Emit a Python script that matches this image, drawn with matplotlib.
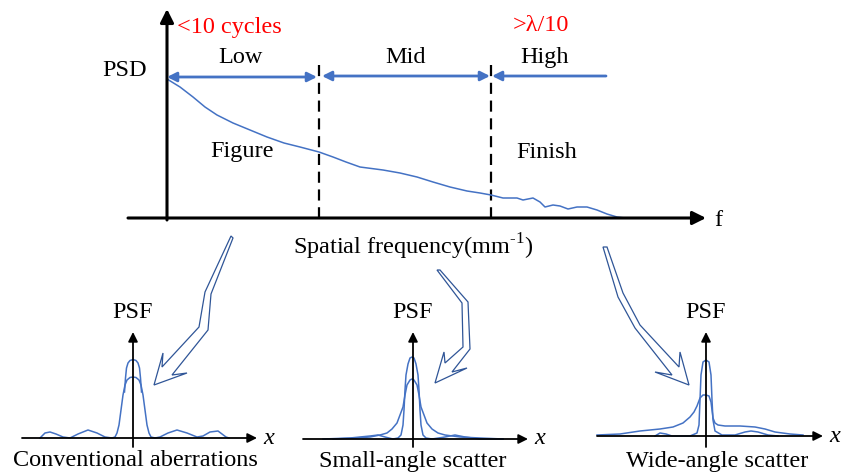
import numpy as np
import matplotlib.pyplot as plt
from matplotlib.patches import Polygon

plt.rcParams['font.family'] = ['Liberation Serif', 'DejaVu Serif']
plt.rcParams['mathtext.fontset'] = 'custom'
plt.rcParams['mathtext.rm'] = 'Liberation Serif'

BLUE = '#4472C4'
DARK = '#2F5597'

# PSD curve (pixel coords)
psd_x = [167, 180, 193, 205, 217, 233, 250, 267, 284, 300, 319, 333, 346, 360, 383, 400,
         417, 433, 450, 467, 480, 491, 503, 517, 523, 533, 540, 545, 553, 560, 568, 577,
         587, 597, 607, 617, 625]
psd_y = [79, 87, 97, 107, 115, 123, 130, 137, 143, 147, 152, 157, 162, 167, 170, 173,
         177, 182, 187, 191, 193, 195, 198, 198, 200, 198, 202, 207, 205, 206, 209, 207,
         207, 210, 214, 217, 218]

# band boundaries (x) and labels
band_edges = [167, 319, 491, 606]
band_names = ['Low', 'Mid', 'High']
band_label_x = [240, 406, 545]

# PSF panels: centre x, baseline y
panel_cx = [133, 413, 706]
panel_base = [438, 439, 436]
panel_left = [22, 303, 597]
panel_right = [257, 528, 823]
panel_names = ['Conventional aberrations', 'Small-angle scatter', 'Wide-angle scatter']
panel_name_x = [135, 413, 717]

# panel 1 curves
p1a_x = [40, 45, 50, 56, 63, 70, 78, 88, 97, 105, 112, 115, 117, 119, 121, 123, 125, 127,
         130, 133, 136, 139, 141, 143, 145, 147, 149, 151, 155, 160, 168, 177, 187, 197,
         203, 210, 218, 222, 226, 229]
p1a_y = [438, 433, 432, 434, 437, 438, 434, 430, 433, 437, 438, 437, 433, 425, 410, 395,
         385, 380, 377.5, 377, 377.5, 380, 385, 395, 410, 425, 433, 437, 438, 437, 433,
         430, 433, 437, 436, 432, 431, 434, 437, 438]
p1b_x = [124.5, 125.5, 126.5, 128, 130, 133, 136, 138, 139.5, 140.5, 141.5]
p1b_y = [392, 378, 368, 363, 360.5, 359.5, 360.5, 363, 368, 378, 392]

# panel 2 curves
p2a_x = [323, 350, 370, 378, 385, 393, 398, 401, 403, 404, 405, 406, 408, 410, 412, 414,
         416, 418, 419, 420, 421, 423, 426, 432, 445, 455, 465, 480, 503]
p2a_y = [439, 438, 436, 435, 437, 439, 438, 435, 425, 410, 390, 375, 364, 358, 357, 358,
         364, 375, 390, 410, 425, 435, 438, 439, 437, 435, 437, 439, 439]
p2b_x = [333, 355, 370, 380, 387, 392, 397, 400, 403, 405, 407, 410, 412, 414, 417, 419,
         421, 424, 427, 432, 438, 445, 460, 480, 503]
p2b_y = [439, 438, 437, 435, 433, 429, 423, 415, 407, 395, 385, 380, 379, 380, 385, 395,
         407, 415, 423, 429, 433, 435, 437, 438, 439]

# panel 3 curves
p3a_x = [597, 620, 640, 660, 673, 683, 690, 694, 697, 700, 703, 706, 709, 711, 712, 713,
         715, 718, 725, 740, 755, 765, 775, 790, 803]
p3a_y = [435, 434, 431, 429, 427, 423, 417, 412, 406, 398, 395, 395, 396, 402, 410, 418,
         423, 425, 426, 426, 427, 429, 432, 434, 435]
p3b_x = [655, 660, 666, 672, 690, 697, 699, 700, 701, 703, 706, 709, 711, 712, 713, 715,
         722, 735, 745, 751, 758, 768, 778]
p3b_y = [436, 433, 434, 436, 436, 433, 425, 400, 375, 362, 360, 362, 375, 400, 420, 431,
         435, 435, 432, 431, 432, 435, 436]

# hollow bent arrows pointing at the panels
arrow1 = [(231, 236), (205, 292), (199, 327), (162, 367), (163, 353), (154, 385),
          (187, 373), (172, 375), (208, 330), (211, 294), (233, 238)]
arrow2 = [(437, 270), (462, 303), (463, 347), (445, 363), (444, 352), (435, 383),
          (467, 368), (452, 372), (470, 349), (468, 302), (440, 270)]
arrow3 = [(603, 247), (618, 297), (635, 328), (672, 375), (655, 372), (689, 385),
          (680, 352), (679, 367), (640, 325), (623, 293), (607, 247)]

fig = plt.figure(figsize=(8.58, 4.74), dpi=100)
ax = fig.add_axes([0, 0, 1, 1])
ax.set_xlim(0, 858)
ax.set_ylim(474, 0)
ax.axis('off')

def arrow(x0, y0, x1, y1, style='-|>', color='black', lw=1.8, ms=16):
    ax.annotate('', xy=(x1, y1), xytext=(x0, y0),
                arrowprops=dict(arrowstyle=style, color=color, lw=lw,
                                mutation_scale=ms, shrinkA=0, shrinkB=0))

FS = 17.5

# main PSD axes
arrow(128, 218, 706, 218, lw=2.2, ms=20)
arrow(167, 220, 167, 9, lw=2.2, ms=20)
ax.text(718, 220, 'f', fontsize=FS, ha='center', va='center')
ax.text(125, 70, 'PSD', fontsize=FS, ha='center', va='center')
ax.text(177, 27, '<10 cycles', fontsize=FS, color='red', ha='left', va='center')
ax.text(541, 25, '>\u03bb/10', fontsize=FS, color='red', ha='center', va='center')
ax.text(413, 247, 'Spatial frequency(mm$^{\\text{-1}}$)', fontsize=FS,
        ha='center', va='center')

for x in band_edges[1:3]:
    ax.plot([x, x], [65, 218], color='black', lw=1.6, dashes=(5, 3))

arrow(band_edges[0], 77, band_edges[1] - 2, 77, style='<|-|>', color=BLUE, lw=2, ms=14)
arrow(band_edges[1] + 3, 76, band_edges[2] - 1, 76, style='<|-|>', color=BLUE, lw=2, ms=14)
arrow(band_edges[3], 76, band_edges[2] + 1, 76, color=BLUE, lw=2, ms=14)
for name, x in zip(band_names, band_label_x):
    ax.text(x, 57, name, fontsize=FS, ha='center', va='center')
ax.text(242, 152, 'Figure', fontsize=FS, ha='center', va='center')
ax.text(547, 152, 'Finish', fontsize=FS, ha='center', va='center')

ax.plot(psd_x, psd_y, color=BLUE, lw=1.1)

# PSF panels
for cx, by, xl, xr, name, nx in zip(panel_cx, panel_base, panel_left, panel_right,
                                    panel_names, panel_name_x):
    arrow(xl, by, xr, by, lw=1.3, ms=14)
    arrow(cx, 447, cx, 332, lw=1.3, ms=14)
    ax.text(cx, 313, 'PSF', fontsize=FS, ha='center', va='center')
    ax.text(xr + 12, by, 'x', fontsize=FS, style='italic', ha='center', va='center')
    ax.text(nx, 461, name, fontsize=FS, ha='center', va='center')

for xs, ys in [(p1a_x, p1a_y), (p1b_x, p1b_y), (p2a_x, p2a_y), (p2b_x, p2b_y),
               (p3a_x, p3a_y), (p3b_x, p3b_y)]:
    ax.plot(xs, ys, color=BLUE, lw=1.1)

for pts in [arrow1, arrow2, arrow3]:
    ax.add_patch(Polygon(pts, closed=True, facecolor='white', edgecolor=DARK, lw=0.9,
                         joinstyle='miter'))

fig.savefig('out.png', dpi=100)
